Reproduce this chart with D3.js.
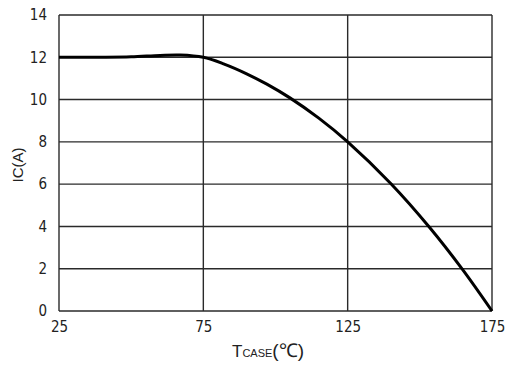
<!DOCTYPE html>
<html>
<head>
<meta charset="utf-8">
<script src="https://cdn.jsdelivr.net/npm/d3@7"></script>
<style>
  html, body { margin: 0; padding: 0; background: #fff; }
  svg { display: block; }
</style>
</head>
<body>
<svg id="chart" width="507" height="365"></svg>
<script>
// Derating curve: collector current vs. case temperature
const tempC = [25, 40, 50, 60, 67, 75, 82, 90, 97, 105, 115, 125, 140, 153.4, 164.7, 175];
const currentA = [12, 12, 12.02, 12.09, 12.11, 12, 11.69, 11.22, 10.73, 10.08, 9.12, 8, 6.02, 3.95, 1.98, 0];
const xTicks = [25, 75, 125, 175];
const yTicks = [0, 2, 4, 6, 8, 10, 12, 14];

const svg = d3.select("#chart");
const margin = { left: 59, right: 15, top: 15, bottom: 54 };
const W = 507, H = 365;

const x = d3.scaleLinear().domain([25, 175]).range([margin.left, W - margin.right]);
const y = d3.scaleLinear().domain([0, 14]).range([H - margin.bottom, margin.top]);

const gridColor = "#2a2a2a";
const tickFont = "'Liberation Sans Narrow', 'DejaVu Sans Condensed', 'Liberation Sans', sans-serif";

// Grid lines
svg.append("g")
  .selectAll("line.h")
  .data(yTicks)
  .join("line")
  .attr("x1", x(25)).attr("x2", x(175))
  .attr("y1", d => y(d)).attr("y2", d => y(d))
  .attr("stroke", gridColor).attr("stroke-width", 1.4);

svg.append("g")
  .selectAll("line.v")
  .data(xTicks)
  .join("line")
  .attr("x1", d => x(d)).attr("x2", d => x(d))
  .attr("y1", y(0)).attr("y2", y(14))
  .attr("stroke", gridColor).attr("stroke-width", 1.4);

// Y tick labels
const yAxis = d3.axisLeft(y).tickValues(yTicks).tickSize(0).tickPadding(12);
const gy = svg.append("g").attr("transform", `translate(${margin.left},0)`).call(yAxis);
gy.select(".domain").remove();
gy.selectAll("text")
  .attr("font-family", tickFont).attr("font-size", 15).attr("fill", "#222");

// X tick labels
const xAxis = d3.axisBottom(x).tickValues(xTicks).tickSize(0).tickPadding(10);
const gx = svg.append("g").attr("transform", `translate(0,${y(0)})`).call(xAxis);
gx.select(".domain").remove();
gx.selectAll("text")
  .attr("font-family", tickFont).attr("font-size", 15).attr("fill", "#222");

// Curve
const line = d3.line()
  .x((d, i) => x(tempC[i]))
  .y(d => y(d))
  .curve(d3.curveCatmullRom.alpha(0.5));

svg.append("path")
  .datum(currentA)
  .attr("d", line)
  .attr("fill", "none")
  .attr("stroke", "#000")
  .attr("stroke-width", 3)
  .attr("stroke-linejoin", "round");

// Axis titles
svg.append("text")
  .attr("transform", `translate(23,${(y(0) + y(14)) / 2 + 2}) rotate(-90)`)
  .attr("text-anchor", "middle")
  .attr("font-family", "'Liberation Sans', Arial, sans-serif")
  .attr("font-size", 15)
  .attr("fill", "#222")
  .text("IC(A)");

const xt = svg.append("text")
  .attr("x", 268).attr("y", 357)
  .attr("text-anchor", "middle")
  .attr("font-family", "'Liberation Sans', Arial, sans-serif")
  .attr("fill", "#222");
xt.append("tspan").attr("font-size", 17).text("T");
xt.append("tspan").attr("font-size", 11).text("CASE");
xt.append("tspan").attr("font-size", 19).text("(℃)");
</script>
</body>
</html>
